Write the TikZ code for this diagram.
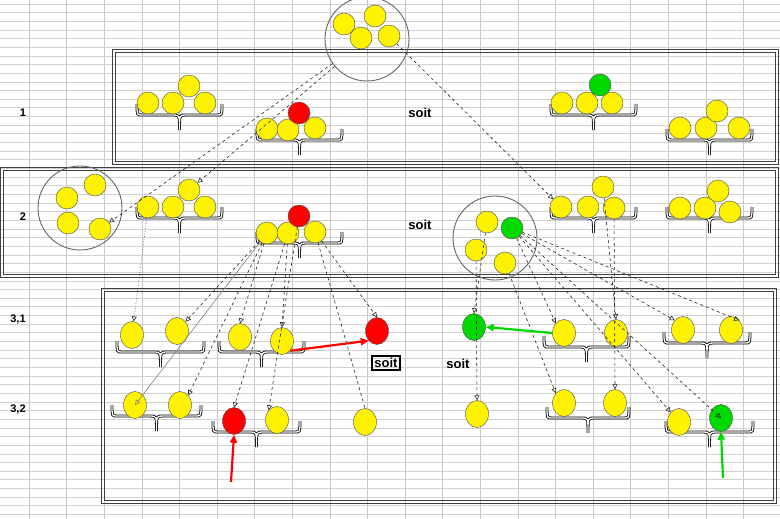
\documentclass[tikz,border=0pt]{standalone}
\usepackage{fontspec}
\setsansfont{Liberation Sans}
\usetikzlibrary{arrows.meta, shapes.geometric}

\tikzset{
    ball/.style = {circle, draw = black!70, fill = yellow, minimum size = 22pt, inner sep = 0pt},
    rball/.style = {ball, fill = red},
    gball/.style = {ball, fill = green!85!black},
    oball/.style = {ellipse, draw = black!70, fill = yellow, minimum width = 23pt, minimum height = 27pt, inner sep = 0pt},
    roball/.style = {oball, fill = red},
    goball/.style = {oball, fill = green!85!black},
    group/.style = {circle, draw = black!60, line width = 0.9pt, minimum size = 84pt, inner sep = 0pt},
    row/.style = {draw = black!75, line width = 1pt},
    brc/.style = {draw = black, double = white, double distance = 1.3pt, line width = 0.8pt},
    lnk/.style = {dashed, black!85, line width = 0.6pt, -{Triangle[open, length = 5pt, width = 5pt]}},
    big/.style = {-{Triangle[length = 8pt, width = 7pt]}, line width = 2.2pt},
    txt/.style = {font = \sffamily\bfseries\fontsize{13}{15}\selectfont},
    lbl/.style = {font = \sffamily\bfseries\fontsize{11}{13}\selectfont}
}

% curly brace: left x, right x, line y
\newcommand{\ballbrace}[3]{%
    \draw[brc] ({#1},{#3-11}) .. controls ({#1},{#3}) .. ({#1+5},{#3})
        -- ({(#1+#2)/2-6},{#3}) .. controls ({(#1+#2)/2},{#3}) .. ({(#1+#2)/2},{#3+15})
        .. controls ({(#1+#2)/2},{#3}) .. ({(#1+#2)/2+6},{#3})
        -- ({#2-5},{#3}) .. controls ({#2},{#3}) .. ({#2},{#3-11});}

% double frame: x1, y1, x2, y2
\newcommand{\rowframe}[4]{%
    \draw[row] (#1,#2) rectangle (#3,#4);
    \draw[row] ({#1+3},{#2+3}) rectangle ({#3-3},{#4-3});}

\begin{document}
\begin{tikzpicture}[x = 1pt, y = -1pt]

    \useasboundingbox (0,0) rectangle (780,519);
    \fill[white] (0,0) rectangle (780,519);

    % sheet grid
    \foreach \gx in {29.2, 66.8, ..., 780} \draw[black!22, line width = 0.8pt] (\gx,0) -- (\gx,519);
    \foreach \gy in {4, 12.65, ..., 519} \draw[black!18, line width = 0.6pt] (0,\gy) -- (780,\gy);

    % rows
    \rowframe{112}{50}{778}{164}
    \rowframe{0}{167}{778}{277}
    \rowframe{101}{288}{776}{503}

    \node[lbl] (l1) at (23,113) {1};
    \node[lbl] (l2) at (23,217) {2};
    \node[lbl] (l31) at (18,320) {3,1};
    \node[lbl] (l32) at (18,410) {3,2};

    % top group
    \node[group] (top) at (367,39) {};
    \node[ball] (t1) at (344,24) {};
    \node[ball] (t2) at (375,16) {};
    \node[ball] (t3) at (361,38) {};
    \node[ball] (t4) at (389,36) {};

    % row 1
    \ballbrace{137}{222}{115}
    \node[ball] (p1) at (148,103) {};
    \node[ball] (p2) at (173,103) {};
    \node[ball] (p3) at (189,86) {};
    \node[ball] (p4) at (205,103) {};
    \ballbrace{257}{342}{140}
    \node[ball] (q1) at (267,129) {};
    \node[ball] (q2) at (288,130) {};
    \node[ball] (q4) at (315,128) {};
    \node[rball] (q3) at (299,113) {};
    \node[txt] (s1) at (420,113) {soit};
    \ballbrace{551}{636}{115}
    \node[ball] (u1) at (562,103) {};
    \node[ball] (u2) at (587,103) {};
    \node[ball] (u3) at (612,103) {};
    \node[gball] (u4) at (600,85) {};
    \ballbrace{667}{752}{140}
    \node[ball] (v1) at (680,128) {};
    \node[ball] (v2) at (706,128) {};
    \node[ball] (v4) at (739,128) {};
    \node[ball] (v3) at (717,111) {};

    % row 2
    \node[group] (left) at (80,208) {};
    \node[ball] (w1) at (67,198) {};
    \node[ball] (w2) at (95,185) {};
    \node[ball] (w3) at (68,223) {};
    \node[ball] (w4) at (100,229) {};
    \ballbrace{137}{222}{218}
    \node[ball] (x1) at (148,207) {};
    \node[ball] (x2) at (173,207) {};
    \node[ball] (x3) at (189,190) {};
    \node[ball] (x4) at (205,207) {};
    \ballbrace{257}{342}{243}
    \node[ball] (y1) at (267,233) {};
    \node[ball] (y2) at (288,233) {};
    \node[ball] (y4) at (315,232) {};
    \node[rball] (y3) at (299,216) {};
    \node[txt] (s2) at (420,225) {soit};
    \node[group] (right) at (495,238) {};
    \node[ball] (z1) at (487,222) {};
    \node[gball] (z2) at (512,228) {};
    \node[ball] (z3) at (476,250) {};
    \node[ball] (z4) at (505,263) {};
    \ballbrace{551}{636}{218}
    \node[ball] (k1) at (561,207) {};
    \node[ball] (k2) at (588,207) {};
    \node[ball] (k4) at (614,208) {};
    \node[ball] (k3) at (603,187) {};
    \ballbrace{667}{752}{218}
    \node[ball] (m1) at (680,208) {};
    \node[ball] (m2) at (705,208) {};
    \node[ball] (m4) at (730,212) {};
    \node[ball] (m3) at (718,191) {};

    % row 3,1
    \ballbrace{117}{204}{352}
    \node[oball] (a1) at (132,335) {};
    \node[oball] (a2) at (177,331) {};
    \ballbrace{219}{304}{352}
    \node[oball] (b1) at (240,337) {};
    \node[oball] (b2) at (282,341) {};
    \node[roball] (r1) at (377,331) {};
    \node[txt, draw = black, line width = 2pt, inner sep = 2pt] (s3) at (386,363) {soit};
    \node[txt] (s4) at (458,364) {soit};
    \node[goball] (g1) at (474,327) {};
    \ballbrace{544}{629}{347}
    \node[oball] (c1) at (564,333) {};
    \node[oball] (c2) at (616,333) {};
    \ballbrace{664}{750}{343}
    \node[oball] (d1) at (683,330) {};
    \node[oball] (d2) at (731,330) {};

    % row 3,2
    \ballbrace{112}{201}{416}
    \node[oball] (e1) at (135,405) {};
    \node[oball] (e2) at (180,405) {};
    \ballbrace{213}{300}{432}
    \node[roball] (f1) at (234,421) {};
    \node[oball] (f2) at (277,420) {};
    \node[oball] (h1) at (365,422) {};
    \node[oball] (h2) at (477,414) {};
    \ballbrace{547}{629}{418}
    \node[oball] (n1) at (564,403) {};
    \node[oball] (n2) at (615,403) {};
    \ballbrace{666}{753}{432}
    \node[oball] (o1) at (679,422) {};
    \node[goball] (o2) at (721,418) {};

    % links
    \draw[lnk] (top) -- (w4);
    \draw[lnk] (top) -- (x3);
    \draw[lnk] (t4) -- (k1);
    \draw[lnk, dotted] (x1) -- (a1);
    \draw[lnk] (y1) -- (a2);
    \draw[lnk] (y1) -- (b1.north);
    \draw[lnk] (y2) -- (b2.north);
    \draw[lnk] (y4) -- (r1.north);
    \draw[lnk, solid, black!50] (y1) -- (e1.center);
    \draw[lnk] (y1) -- (e2.north east);
    \draw[lnk] (y2) -- (f1.north);
    \draw[lnk] (y3) -- (f2.north west);
    \draw[dashed, black!85, line width = 0.6pt] (y4) -- (h1.north);
    \draw[lnk] (z1) -- (g1.north);
    \draw[lnk] (z3) -- (h2.north);
    \draw[lnk] (z2) -- (c1.north west);
    \draw[lnk] (z2) -- (d1.north west);
    \draw[lnk] (z2) -- (d2.north east);
    \draw[lnk] (z4) -- (n1.north west);
    \draw[lnk] (z2) -- (o1.north west);
    \draw[lnk] (z2) -- (o2.center);
    \draw[lnk] (k3) -- (c2.north);
    \draw[lnk] (k4) -- (n2.north);

    % marks
    \draw[big, red] (b2.south east) -- (r1.south west);
    \draw[big, green!85!black] (c1.west) -- (g1.east);
    \coordinate (ra) at (231,482);
    \coordinate (ga) at (723,478);
    \draw[big, red] (ra) -- (f1.south);
    \draw[big, green!85!black] (ga) -- (o2.south);

\end{tikzpicture}
\end{document}
